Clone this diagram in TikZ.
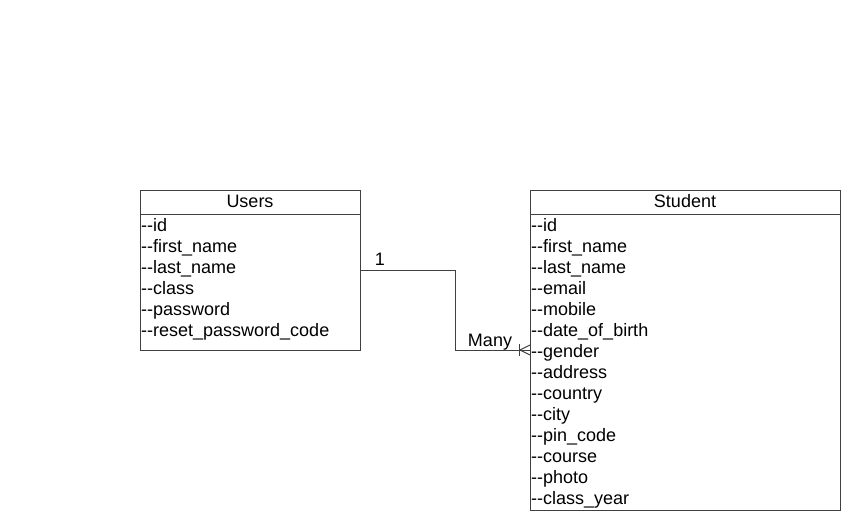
\documentclass[tikz,border=0pt]{standalone}
\usepackage{fontspec}
\setmainfont{Liberation Sans}[Ligatures=TeXOff]
\begin{document}
\begin{tikzpicture}[x=1pt,y=-1pt,
  entity/.style={draw=black!75, line width=1pt, minimum width=#1, inner sep=0pt, outer sep=0pt},
  rowtxt/.style={anchor=base west, inner sep=0pt, font=\fontsize{18}{21}\selectfont},
  headtxt/.style={anchor=base, inner sep=0pt, font=\fontsize{18}{21}\selectfont},
  conn/.style={draw=black!75, line width=1pt}]
\useasboundingbox (0,0) rectangle (862,530);
% Users
\node[entity=220pt, minimum height=160pt] (users) at (250,270) {};
\draw[conn] (140,214) -- (360,214);
\node[headtxt] (uh) at (250,207) {Users};
\foreach \t [count=\i from 0] in {--id,--first\_name,--last\_name,--class,--password,--reset\_password\_code}
  \node[rowtxt] (u\i) at (141,231+21*\i) {\t};
% Student
\node[entity=310pt, minimum height=320pt] (student) at (685,350) {};
\draw[conn] (530,214) -- (840,214);
\node[headtxt] (sh) at (685,207) {Student};
\foreach \t [count=\i from 0] in {--id,--first\_name,--last\_name,--email,--mobile,--date\_of\_birth,--gender,--address,--country,--city,--pin\_code,--course,--photo,--class\_year}
  \node[rowtxt] (s\i) at (531,231+21*\i) {\t};
% connector
\coordinate (bend1) at (455,270);
\coordinate (bend2) at (455,350);
\draw[conn] (users.east) -- (bend1) -- (bend2) -- (student.west);
\coordinate (crow) at (520,350);
\draw[conn] (crow) -- (530,345);
\draw[conn] (crow) -- (530,355);
\draw[conn] (519,344) -- (519,356);
\node[headtxt] (one) at (380,265) {1};
\node[headtxt] (many) at (490,346.5) {Many};
\end{tikzpicture}
\end{document}
